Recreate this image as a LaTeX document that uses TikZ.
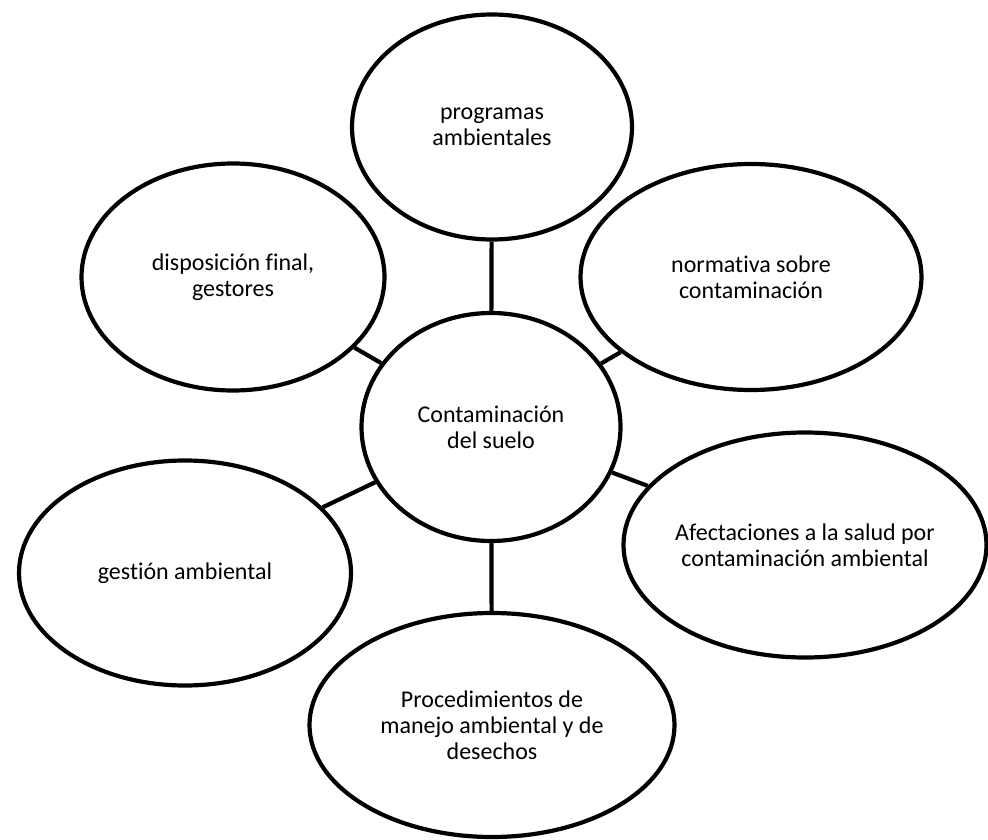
\documentclass[tikz,border=0pt]{standalone}
\usepackage{fontspec}
\setmainfont{Carlito}[Ligatures=NoCommon]
\usetikzlibrary{shapes.geometric}

\begin{document}
\begin{tikzpicture}[x=1pt,y=-1pt,
  bubble/.style={ellipse,draw=black,line width=4.2pt,fill=white,inner sep=0pt},
  bubtext/.style={align=center,inner sep=0pt,font=\fontsize{24}{25.8}\selectfont},
  link/.style={draw=black,line width=4.2pt}]
\useasboundingbox (0,0) rectangle (988,840);

% central topic
\node[bubble,minimum width=259pt,minimum height=228pt,
      label={[bubtext,name=contT]center:{Contaminación\\del suelo}}] (cont) at (491,427) {};

% surrounding topics
\node[bubble,minimum width=280pt,minimum height=225pt,
      label={[bubtext,name=progT]center:{programas\\ambientales}}] (prog) at (492,127) {};
\node[bubble,minimum width=303pt,minimum height=227pt,
      label={[bubtext,name=dispT]center:{disposición final,\\gestores}}] (disp) at (233,277) {};
\node[bubble,minimum width=341pt,minimum height=226pt,
      label={[bubtext,name=normT]center:{normativa sobre\\contaminación}}] (norm) at (751,277) {};
\node[bubble,minimum width=332pt,minimum height=225pt,
      label={[bubtext,name=gestT]center:{gestión ambiental}}] (gest) at (185,573) {};
\node[bubble,minimum width=363pt,minimum height=225pt,
      label={[bubtext,name=afecT]center:{Afectaciones a la salud por\\contaminación ambiental}}] (afec) at (805,545) {};
\node[bubble,minimum width=365pt,minimum height=224pt,
      label={[bubtext,name=procT]center:{Procedimientos de\\manejo ambiental y de\\desechos}}] (proc) at (492,725) {};

% spokes from the centre to each topic
\draw[link] (cont) -- (prog);
\draw[link] (cont) -- (disp);
\draw[link] (cont) -- (norm);
\draw[link] (cont) -- (gest);
\draw[link] (cont) -- (afec);
\draw[link] (cont) -- (proc);
\end{tikzpicture}
\end{document}
